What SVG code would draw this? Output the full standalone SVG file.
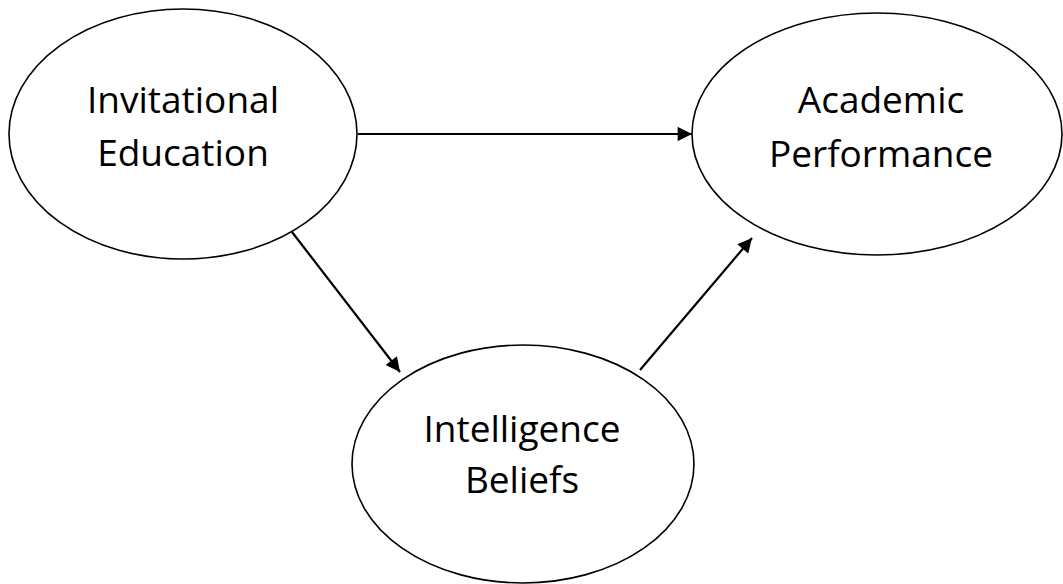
<svg xmlns="http://www.w3.org/2000/svg" width="1063" height="584" viewBox="0 0 1063 584">
<defs>
<style>
.node ellipse{fill:#fff;stroke:#000;stroke-width:1.6}
.node text{font-family:"Open Sans","Noto Sans",sans-serif;font-size:37px;fill:#000;text-anchor:middle}
.edge{stroke:#000;stroke-width:2.2;fill:none;marker-end:url(#ah)}
</style>
<marker id="ah" viewBox="0 0 10 10" refX="10" refY="5" markerWidth="7.5" markerHeight="6.5" markerUnits="strokeWidth" orient="auto">
<path d="M0,0 L10,5 L0,10 Z" fill="#000"/>
</marker>
</defs>
<rect width="1063" height="584" fill="#fff"/>
<g id="invitational-education" class="node">
<ellipse cx="183" cy="134" rx="174" ry="125"/>
<text x="183" y="113">Invitational</text>
<text x="183" y="166">Education</text>
</g>
<g id="academic-performance" class="node">
<ellipse cx="877" cy="134" rx="185" ry="121"/>
<text x="881" y="113">Academic</text>
<text x="881" y="167">Performance</text>
</g>
<g id="intelligence-beliefs" class="node">
<ellipse cx="523" cy="464" rx="171" ry="119"/>
<text x="522" y="442">Intelligence</text>
<text x="522" y="493">Beliefs</text>
</g>
<g id="connectors">
<line class="edge" x1="358" y1="134" x2="692" y2="134"/>
<line class="edge" x1="292" y1="232" x2="400" y2="372"/>
<line class="edge" x1="640" y1="370" x2="752" y2="238"/>
</g>
</svg>
